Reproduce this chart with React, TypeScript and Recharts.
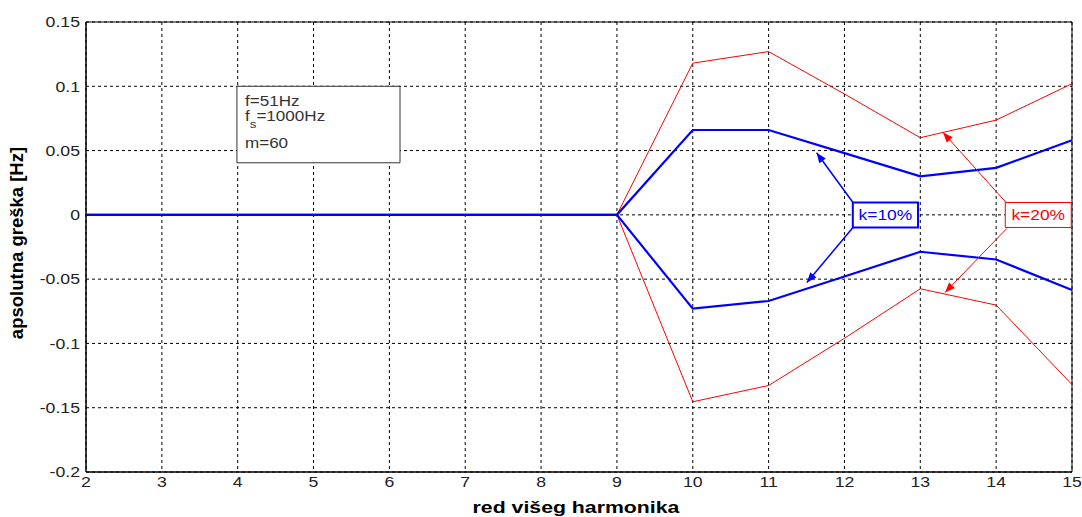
import React from 'react';
import {
  LineChart,
  Line,
  XAxis,
  YAxis,
  CartesianGrid,
  ReferenceArea,
  ReferenceLine,
} from 'recharts';

const harmonics = [2, 3, 4, 5, 6, 7, 8, 9, 10, 11, 12, 13, 14, 15];
const blueUpper = [0, 0, 0, 0, 0, 0, 0, 0, 0.066, 0.066, 0.048, 0.03, 0.0366, 0.058];
const blueLower = [0, 0, 0, 0, 0, 0, 0, 0, -0.073, -0.067, -0.048, -0.0287, -0.0347, -0.0585];
const redUpper = [0, 0, 0, 0, 0, 0, 0, 0, 0.118, 0.127, 0.094, 0.06, 0.0737, 0.102];
const redLower = [0, 0, 0, 0, 0, 0, 0, 0, -0.1454, -0.1327, -0.096, -0.0575, -0.0702, -0.132];
const xTicks = [2, 3, 4, 5, 6, 7, 8, 9, 10, 11, 12, 13, 14, 15];
const yTicks = [-0.2, -0.15, -0.1, -0.05, 0, 0.05, 0.1, 0.15];

const data = harmonics.map((h, i) => ({
  h,
  bu: blueUpper[i],
  bl: blueLower[i],
  ru: redUpper[i],
  rl: redLower[i],
}));

const FONT = '"Liberation Sans", Arial, sans-serif';
const BLUE = '#0000ff';
const RED = '#ff0000';
const SX = 1.22;

const fmtY = (v: number) => {
  const s = parseFloat(Number(v).toFixed(2)).toString();
  return s === '-0' ? '0' : s;
};

const YTick = (props: any) => {
  const { x, y, payload } = props;
  return (
    <text
      transform={`translate(${x},${y}) scale(${SX},1)`}
      textAnchor="end"
      dy="0.36em"
      fontFamily={FONT}
      fontSize={14.5}
      fill="#222"
    >
      {fmtY(payload.value)}
    </text>
  );
};

const XTick = (props: any) => {
  const { x, y, payload } = props;
  return (
    <text
      transform={`translate(${x},${y}) scale(${SX},1)`}
      textAnchor="middle"
      dy="0.72em"
      fontFamily={FONT}
      fontSize={14.5}
      fill="#222"
    >
      {String(payload.value)}
    </text>
  );
};

const arrowShape = (color: string) => (props: any) => {
  const { x1, y1, x2, y2 } = props;
  if ([x1, y1, x2, y2].some((v) => v === undefined || isNaN(v))) return <g />;
  const ang = Math.atan2(y2 - y1, x2 - x1);
  const len = 10;
  const w = 4;
  const bx = x2 - len * Math.cos(ang);
  const by = y2 - len * Math.sin(ang);
  const px = -Math.sin(ang) * w;
  const py = Math.cos(ang) * w;
  return (
    <g>
      <line x1={x1} y1={y1} x2={x2} y2={y2} stroke={color} strokeWidth={color === BLUE ? 1.5 : 1} />
      <polygon
        points={`${x2},${y2} ${bx + px},${by + py} ${bx - px},${by - py}`}
        fill={color}
      />
    </g>
  );
};

const boxLabel = (text: string, color: string) => (props: any) => {
  const vb = props.viewBox;
  if (!vb) return null;
  return (
    <text
      transform={`translate(${vb.x + vb.width / 2},${vb.y + vb.height / 2 + 5.5}) scale(1.2,1)`}
      textAnchor="middle"
      fontFamily={FONT}
      fontSize={14.5}
      fill={color}
    >
      {text}
    </text>
  );
};

const infoLabel = (props: any) => {
  const vb = props.viewBox;
  if (!vb) return null;
  const x = vb.x + 8;
  const y = vb.y;
  const t = (dy: number) => `translate(${x},${y + dy}) scale(1.22,1)`;
  return (
    <g fontFamily={FONT} fontSize={14} fill="#333">
      <text transform={t(20)}>f=51Hz</text>
      <text transform={t(35)}>
        f
        <tspan fontSize={11} dy={7}>s</tspan>
        <tspan dy={-7}>=1000Hz</tspan>
      </text>
      <text transform={t(62)}>m=60</text>
    </g>
  );
};

export default function App() {
  return (
    <div style={{ position: 'absolute', left: 0, top: 0, background: '#fff' }}>
      <LineChart
        width={1082}
        height={517}
        data={data}
        margin={{ top: 22, right: 10, left: 0, bottom: 0 }}
      >
        <CartesianGrid stroke="#000" strokeDasharray="3 3" />
        <XAxis
          dataKey="h"
          type="number"
          domain={[2, 15]}
          ticks={xTicks}
          height={45}
          tickLine={false}
          tickSize={3}
          tickMargin={2}
          axisLine={{ stroke: '#000' }}
          tick={XTick}
          label={(props: any) => {
            const vb = props.viewBox;
            const cx = vb.x + vb.width / 2 - 3;
            return (
              <text
                transform={`translate(${cx},513) scale(1.33,1)`}
                textAnchor="middle"
                fontFamily={FONT}
                fontWeight="bold"
                fontSize={16}
                fill="#000"
              >
                red višeg harmonika
              </text>
            );
          }}
        />
        <YAxis
          type="number"
          domain={[-0.2, 0.15]}
          ticks={yTicks}
          width={86}
          tickLine={false}
          tickSize={4}
          tickMargin={2}
          axisLine={{ stroke: '#000' }}
          tick={YTick}
          allowDataOverflow
          label={(props: any) => {
            const vb = props.viewBox;
            const cx = 18;
            const cy = vb.y + vb.height / 2 - 4;
            return (
              <text
                x={cx}
                y={cy}
                transform={`rotate(-90, ${cx}, ${cy})`}
                textAnchor="middle"
                dominantBaseline="middle"
                fontFamily={FONT}
                fontWeight="bold"
                fontSize={18.5}
                fill="#000"
              >
                apsolutna greška [Hz]
              </text>
            );
          }}
        />
        <ReferenceArea
          x1={2}
          x2={15}
          y1={-0.2}
          y2={0.15}
          fill="none"
          fillOpacity={0}
          stroke="#000"
          strokeWidth={1}
        />
        <Line dataKey="ru" stroke={RED} strokeWidth={1} dot={false} isAnimationActive={false} />
        <Line dataKey="rl" stroke={RED} strokeWidth={1} dot={false} isAnimationActive={false} />
        <Line dataKey="bu" stroke={BLUE} strokeWidth={2.2} dot={false} isAnimationActive={false} />
        <Line dataKey="bl" stroke={BLUE} strokeWidth={2.2} dot={false} isAnimationActive={false} />

        <ReferenceArea
          x1={3.99}
          x2={6.14}
          y1={0.0405}
          y2={0.1}
          fill="#fff"
          fillOpacity={1}
          stroke="#333"
          strokeWidth={1}
          label={infoLabel}
        />

        <ReferenceLine
          segment={[{ x: 12.112, y: 0.0096 }, { x: 11.633, y: 0.0483 }]}
          shape={arrowShape(BLUE)}
        />
        <ReferenceLine
          segment={[{ x: 12.112, y: -0.0098 }, { x: 11.505, y: -0.0526 }]}
          shape={arrowShape(BLUE)}
        />
        <ReferenceLine
          segment={[{ x: 14.131, y: 0.0096 }, { x: 13.3, y: 0.0641 }]}
          shape={arrowShape(RED)}
        />
        <ReferenceLine
          segment={[{ x: 14.14, y: -0.0106 }, { x: 13.326, y: -0.0604 }]}
          shape={arrowShape(RED)}
        />

        <ReferenceArea
          x1={12.11}
          x2={12.97}
          y1={-0.0098}
          y2={0.0096}
          fill="#fff"
          fillOpacity={1}
          stroke={BLUE}
          strokeWidth={2}
          label={boxLabel('k=10%', BLUE)}
        />
        <ReferenceArea
          x1={14.12}
          x2={14.99}
          y1={-0.0098}
          y2={0.0096}
          fill="#fff"
          fillOpacity={1}
          stroke={RED}
          strokeWidth={1}
          label={boxLabel('k=20%', RED)}
        />
      </LineChart>
    </div>
  );
}
